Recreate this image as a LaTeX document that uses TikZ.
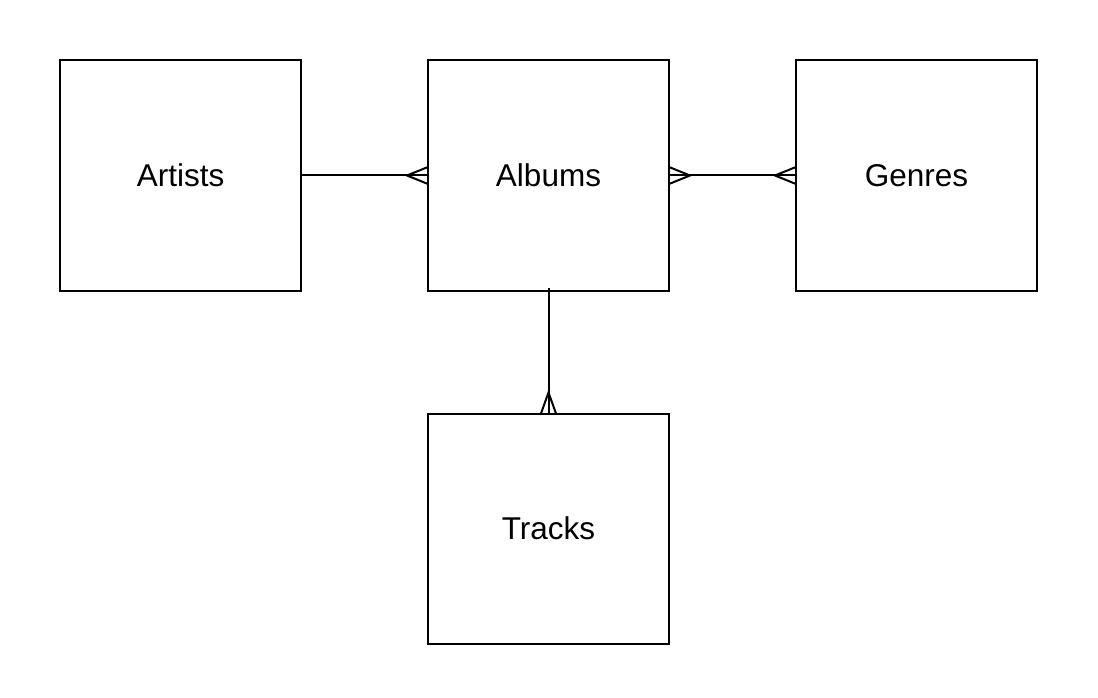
\documentclass[tikz,border=0pt]{standalone}
\usepackage{fontspec}
\setmainfont{Liberation Sans}
\usetikzlibrary{calc}
\begin{document}
\begin{tikzpicture}[x=1pt,y=1pt,
  entity/.style={draw, line width=2pt, minimum width=241pt, minimum height=230pt, inner sep=0pt, outer sep=0pt, font=\fontsize{31.5}{36}\selectfont},
  conn/.style={line width=2pt}]
\useasboundingbox (0,0) rectangle (1098,-698);
\node[entity] (artists) at (180.5,-175.5) {Artists};
\node[entity] (albums) at (548.5,-175.5) {Albums};
\node[entity] (genres) at (916.5,-175.5) {Genres};
\node[entity] (tracks) at (548.5,-528.5) {Tracks};
% Artists - Albums (many at Albums)
\draw[conn] (artists.east) -- (albums.west);
\draw[conn] ($(albums.west)+(0,8.5)$) -- ($(albums.west)+(-21,0)$) -- ($(albums.west)+(0,-8.5)$);
% Albums - Genres (many at both)
\draw[conn] (albums.east) -- (genres.west);
\draw[conn] ($(albums.east)+(0,8.5)$) -- ($(albums.east)+(21,0)$) -- ($(albums.east)+(0,-8.5)$);
\draw[conn] ($(genres.west)+(0,8.5)$) -- ($(genres.west)+(-21,0)$) -- ($(genres.west)+(0,-8.5)$);
% Albums - Tracks (many at Tracks)
\draw[conn] ($(albums.south)+(0,3)$) -- (tracks.north);
\draw[conn] ($(tracks.north)+(-7.5,0)$) -- ($(tracks.north)+(0,21)$) -- ($(tracks.north)+(7.5,0)$);
\end{tikzpicture}
\end{document}
